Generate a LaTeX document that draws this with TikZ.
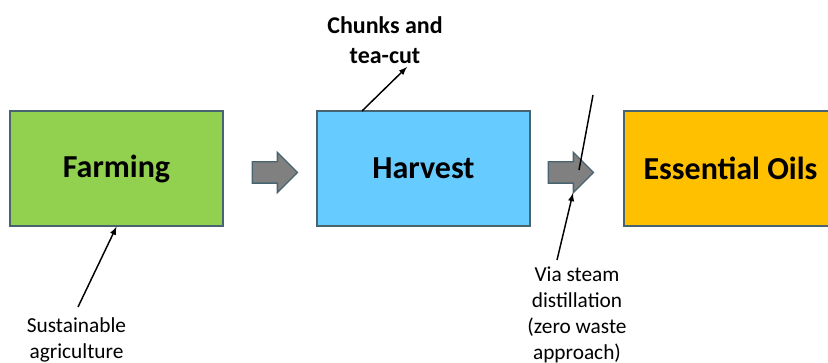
\documentclass[tikz,border=0pt]{standalone}
\usepackage{fontspec}
\setmainfont{Carlito}
\usetikzlibrary{shapes.arrows}
\definecolor{farmgreen}{RGB}{146,208,80}
\definecolor{harvestblue}{RGB}{102,204,255}
\definecolor{oilorange}{RGB}{255,192,0}
\definecolor{edgeslate}{RGB}{72,100,112}
\tikzset{
  stage/.style={draw=edgeslate, line width=1pt, minimum width=159.75pt, minimum height=86.25pt, font=\fontsize{24}{28}\selectfont\bfseries},
  blockarr/.style={single arrow, draw=edgeslate, line width=1pt, fill=gray, inner xsep=0pt, inner ysep=7.5pt, minimum height=34pt, single arrow head extend=7.1pt, single arrow head indent=0pt},
  note/.style={align=center, font=\fontsize{16}{19.5}\selectfont},
  pointer/.style={line width=1.1pt, -latex}
}
\begin{document}
\begin{tikzpicture}[x=0.75pt,y=0.75pt,yscale=-1]
\useasboundingbox (0,0) rectangle (828,363);
\clip (0,0) rectangle (828,363);

%Shape: Rectangle [Farming]
\node[stage, fill=farmgreen] (farming) at (116.5,168.5) {Farming};
%Shape: Rectangle [Harvest]
\node[stage, fill=harvestblue] (harvest) at (423.5,168.5) {Harvest};
%Shape: Rectangle [Essential Oils]
\node[stage, fill=oilorange] (oils) at (730.5,168.5) {Essential Oils};

%Shape: Right Arrow
\node[blockarr] (step one) at (269.5,172.5) {};
%Shape: Right Arrow
\node[blockarr] (step two) at (565.5,172.5) {};

%Text Nodes
\node[note, font=\fontsize{18}{22.5}\selectfont\bfseries] (chunks) at (385,40) {Chunks and\\tea-cut};
\node[note] (sustain) at (76.5,340) {Sustainable\\agriculture};
\node[note] (steam) at (577,315) {Via steam\\distillation\\(zero waste\\approach)};

%Straight Lines
\coordinate (sustain tail) at (78,307);
\coordinate (chunks tail) at (362,111);
\coordinate (chunks head) at (407,67);
\coordinate (steam tail) at (557,260);
\coordinate (steam head) at (573,193);
\coordinate (stray top) at (593,95);
\coordinate (stray end) at (579,170);
\draw[pointer] (sustain tail) -- (farming.south);
\draw[pointer] (chunks tail) -- (chunks head);
\draw[pointer] (steam tail) -- (steam head);
\draw[line width=1.1pt] (stray top) -- (stray end);

\end{tikzpicture}
\end{document}
